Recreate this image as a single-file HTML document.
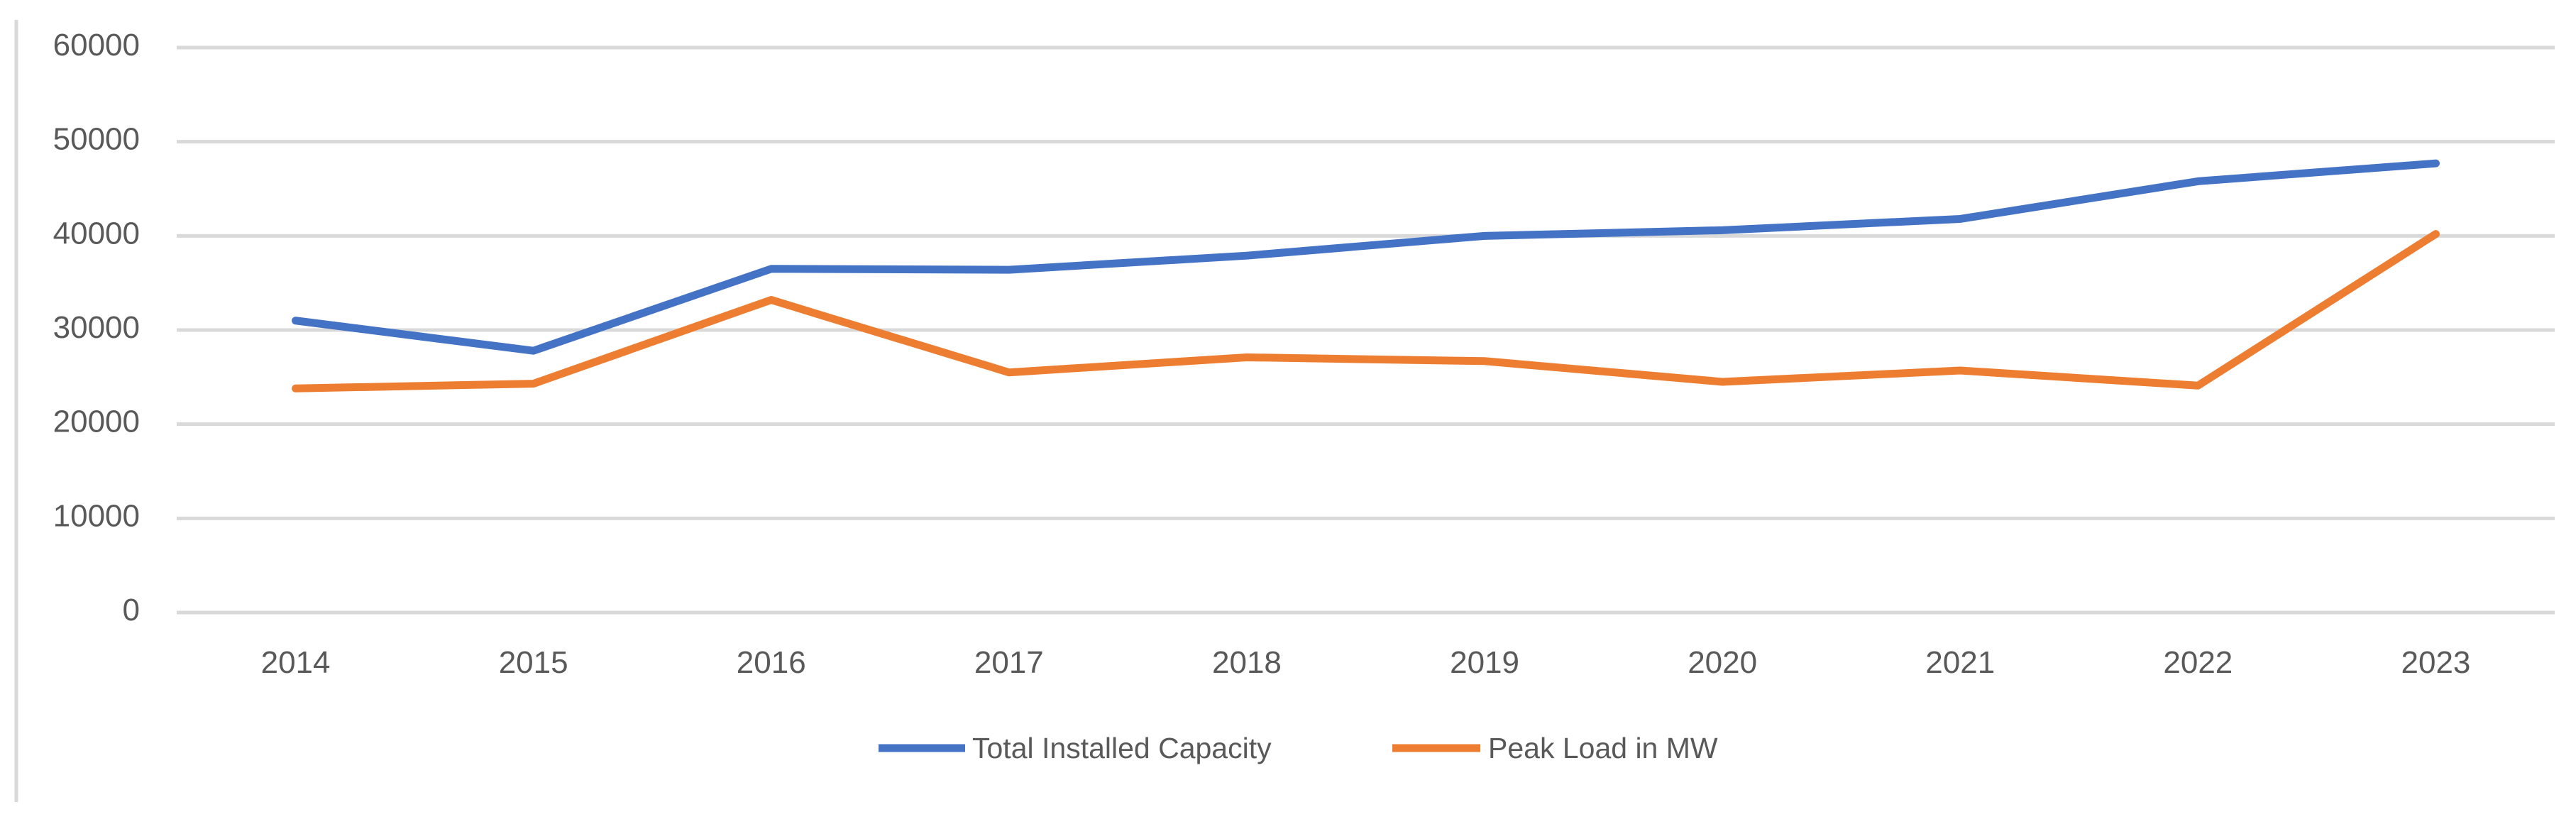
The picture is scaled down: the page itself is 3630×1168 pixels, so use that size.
<!DOCTYPE html>
<html><head><meta charset="utf-8"><style>
html,body{margin:0;padding:0;background:#fff;}
svg{display:block;font-family:"Liberation Sans",sans-serif;}
</style></head><body>
<svg id="chart" width="3630" height="1168" viewBox="0 0 3630 1168" xmlns="http://www.w3.org/2000/svg">
<rect x="0" y="0" width="3630" height="1168" fill="#fff"/>
<line x1="23" y1="28" x2="23" y2="1130" stroke="#d9d9d9" stroke-width="5"/>
<g id="grid"></g>
<g id="ylab"></g>
<g id="xlab"></g>
<g id="series"></g>
<g>
<line x1="1238" y1="1054" x2="1360" y2="1054" stroke="#4472c4" stroke-width="11"/>
<text x="1370" y="1068" font-size="41" fill="#595959">Total Installed Capacity</text>
<line x1="1962" y1="1054" x2="2086" y2="1054" stroke="#ed7d31" stroke-width="11"/>
<text x="2097" y="1068" font-size="41" fill="#595959">Peak Load in MW</text>
</g>
</svg>
<script>
const categories = ["2014","2015","2016","2017","2018","2019","2020","2021","2022","2023"];
const capacityValues = [31000,27800,36500,36400,37900,40000,40600,41800,45800,47700];
const peakValues = [23800,24300,33200,25500,27100,26700,24500,25700,24100,40200];
const yTicks = [0,10000,20000,30000,40000,50000,60000];
const seriesNames = ["Total Installed Capacity","Peak Load in MW"];

const NS = "http://www.w3.org/2000/svg";
const X0 = 249, X1 = 3600, Y0 = 863, Y1 = 67, YMAX = 60000;
function xPos(i){ const bw = (X1 - X0) / categories.length; return X0 + bw * (i + 0.5); }
function yPos(v){ return Y0 - (v / YMAX) * (Y0 - Y1); }

const grid = document.getElementById('grid');
const ylab = document.getElementById('ylab');
yTicks.forEach(t => {
  const l = document.createElementNS(NS, 'line');
  l.setAttribute('x1', X0); l.setAttribute('x2', X1);
  l.setAttribute('y1', yPos(t)); l.setAttribute('y2', yPos(t));
  l.setAttribute('stroke', '#d9d9d9'); l.setAttribute('stroke-width', '5');
  
  
  grid.appendChild(l);
  const tx = document.createElementNS(NS, 'text');
  tx.setAttribute('x', 197); tx.setAttribute('y', yPos(t) + 11);
  tx.setAttribute('text-anchor', 'end'); tx.setAttribute('font-size', '44');
  tx.setAttribute('fill', '#595959');
  tx.textContent = t;
  
  
  ylab.appendChild(tx);
});

const xlab = document.getElementById('xlab');
categories.forEach((c, i) => {
  const tx = document.createElementNS(NS, 'text');
  tx.setAttribute('x', xPos(i)); tx.setAttribute('y', 948);
  tx.setAttribute('text-anchor', 'middle'); tx.setAttribute('font-size', '44');
  tx.setAttribute('fill', '#595959');
  tx.textContent = c;
  
  
  xlab.appendChild(tx);
});

const series = document.getElementById('series');
function drawLine(vals, color, name){
  const p = document.createElementNS(NS, 'polyline');
  p.setAttribute('points', vals.map((v, i) => xPos(i) + ',' + yPos(v)).join(' '));
  p.setAttribute('fill', 'none'); p.setAttribute('stroke', color);
  p.setAttribute('stroke-width', '11'); p.setAttribute('stroke-linejoin', 'round');
  p.setAttribute('stroke-linecap', 'round');
  
  
  series.appendChild(p);
}
drawLine(capacityValues, '#4472c4', 'capacity-line');
drawLine(peakValues, '#ed7d31', 'peak-load-line');
</script>
</body></html>
